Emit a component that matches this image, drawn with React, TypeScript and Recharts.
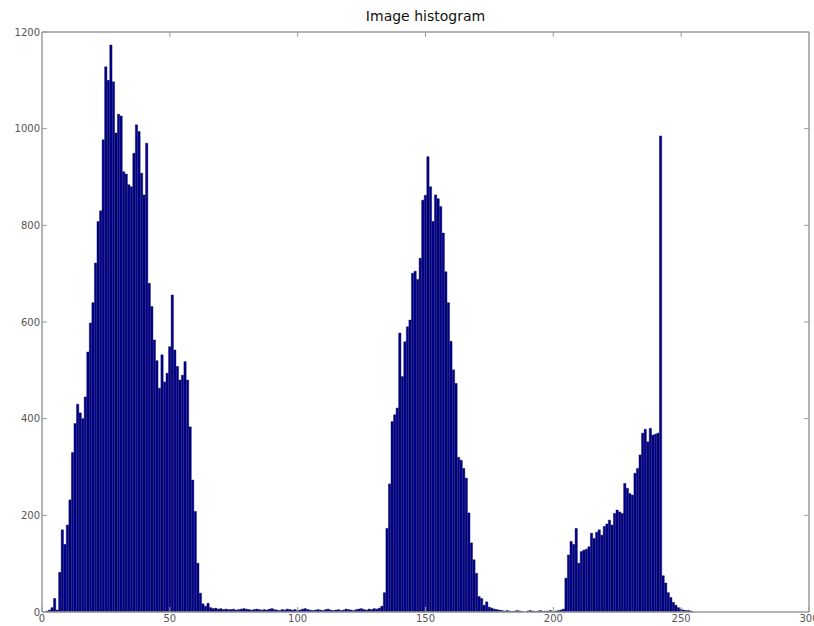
import { BarChart, Bar, XAxis, YAxis, ReferenceLine } from 'recharts';

// histogram counts for grey levels 0..255
const counts = [
  0, 0, 2, 4, 9, 28, 4, 82, 170, 140,
  180, 232, 330, 390, 430, 412, 400, 445, 538, 598,
  640, 722, 808, 830, 977, 1128, 1100, 1173, 1097, 991,
  1030, 1026, 911, 906, 884, 880, 949, 1008, 994, 908,
  863, 970, 680, 632, 563, 520, 463, 532, 476, 494,
  549, 656, 542, 508, 480, 490, 518, 480, 383, 273,
  208, 101, 39, 17, 12, 18,
  9, 7, 8, 6, 7, 5, 6, 5, 5, 6,
  4, 5, 6, 7, 6, 5, 4, 5, 6, 5,
  4, 5, 4, 6, 7, 5, 4, 3, 5, 4,
  6, 5, 4, 5, 3, 4, 6, 7, 5, 4,
  3, 4, 5, 4, 3, 5, 6, 4, 3, 4,
  5, 3, 4, 6, 5, 4, 3, 5, 6, 7,
  5, 4, 6, 5, 7, 6, 8,
  12, 40, 173, 265, 394, 408, 422, 577, 487, 559,
  590, 604, 701, 705, 688, 732, 852, 862, 942, 880,
  808, 863, 855, 839, 784, 704, 640, 560, 501, 473,
  320, 314, 297, 277, 205, 143, 108, 80, 32, 28,
  14, 21, 10, 8, 6, 5, 4,
  3, 2, 3, 2, 1, 2, 3, 2, 1, 0,
  2, 3, 2, 1, 2, 3, 1, 2, 2, 3,
  1, 2, 3, 4,
  6, 70, 118, 146, 140, 173, 101, 125, 128, 130,
  135, 163, 152, 165, 170, 159, 177, 182, 190, 180,
  204, 211, 207, 204, 266, 256, 245, 242, 287, 297,
  325, 370, 378, 352, 380, 366, 368, 370, 985, 75,
  60, 40, 30, 20, 14, 9, 6, 4, 3, 3,
  2, 0,
];

const xTicks = [0, 50, 100, 150, 200, 250, 300];
const yTicks = [0, 200, 400, 600, 800, 1000, 1200];
const X_MAX = 300;
const Y_MAX = 1200;

const data = counts.map((c, i) => ({ bin: i, count: c }));

const AXIS = '#9a9a9a';
const tickFont = { fontFamily: 'DejaVu Sans', fontSize: 10, fill: '#555' };

export default function App() {
  return (
    <div style={{ position: 'absolute', left: 0, top: 0, width: 814, height: 626, background: '#fff' }}>
      <div
        style={{
          position: 'absolute',
          left: 42,
          width: 767,
          top: 8,
          textAlign: 'center',
          fontFamily: 'DejaVu Sans',
          fontSize: 14,
          color: '#111',
        }}
      >
        Image histogram
      </div>
      <BarChart
        width={814}
        height={626}
        data={data}
        margin={{ top: 32, right: 5, left: 0, bottom: 0 }}
        barGap={0}
        barCategoryGap={0}
      >
        <XAxis
          xAxisId="b"
          type="number"
          dataKey="bin"
          domain={[0, X_MAX]}
          ticks={xTicks}
          interval={0}
          height={14}
          tickSize={-5}
          tickMargin={8}
          axisLine={{ stroke: AXIS, strokeWidth: 1.5 }}
          tickLine={{ stroke: AXIS }}
          tick={tickFont}
        />
        <YAxis
          yAxisId="l"
          type="number"
          domain={[0, Y_MAX]}
          ticks={yTicks}
          interval={0}
          width={42}
          tickSize={-5}
          tickMargin={7}
          axisLine={{ stroke: AXIS, strokeWidth: 1.5 }}
          tickLine={{ stroke: AXIS }}
          tick={tickFont}
        />
        <Bar
          xAxisId="b"
          yAxisId="l"
          dataKey="count"
          fill="#00008f"
          stroke="#000045"
          strokeWidth={0.4}
          barSize={2.6}
          isAnimationActive={false}
        />
        {/* top and right edges of the axes box */}
        <ReferenceLine xAxisId="b" yAxisId="l" y={Y_MAX} stroke={AXIS} strokeWidth={1.5} />
        <ReferenceLine xAxisId="b" yAxisId="l" x={X_MAX} stroke={AXIS} strokeWidth={1.5} />
        {/* inward ticks on the top and right edges */}
        {xTicks.slice(1, -1).map((t) => (
          <ReferenceLine
            key={`tx${t}`}
            xAxisId="b"
            yAxisId="l"
            segment={[{ x: t, y: Y_MAX }, { x: t, y: Y_MAX - 10 }]}
            stroke={AXIS}
          />
        ))}
        {yTicks.slice(1, -1).map((t) => (
          <ReferenceLine
            key={`ty${t}`}
            xAxisId="b"
            yAxisId="l"
            segment={[{ x: X_MAX, y: t }, { x: X_MAX - 2, y: t }]}
            stroke={AXIS}
          />
        ))}
      </BarChart>
    </div>
  );
}
